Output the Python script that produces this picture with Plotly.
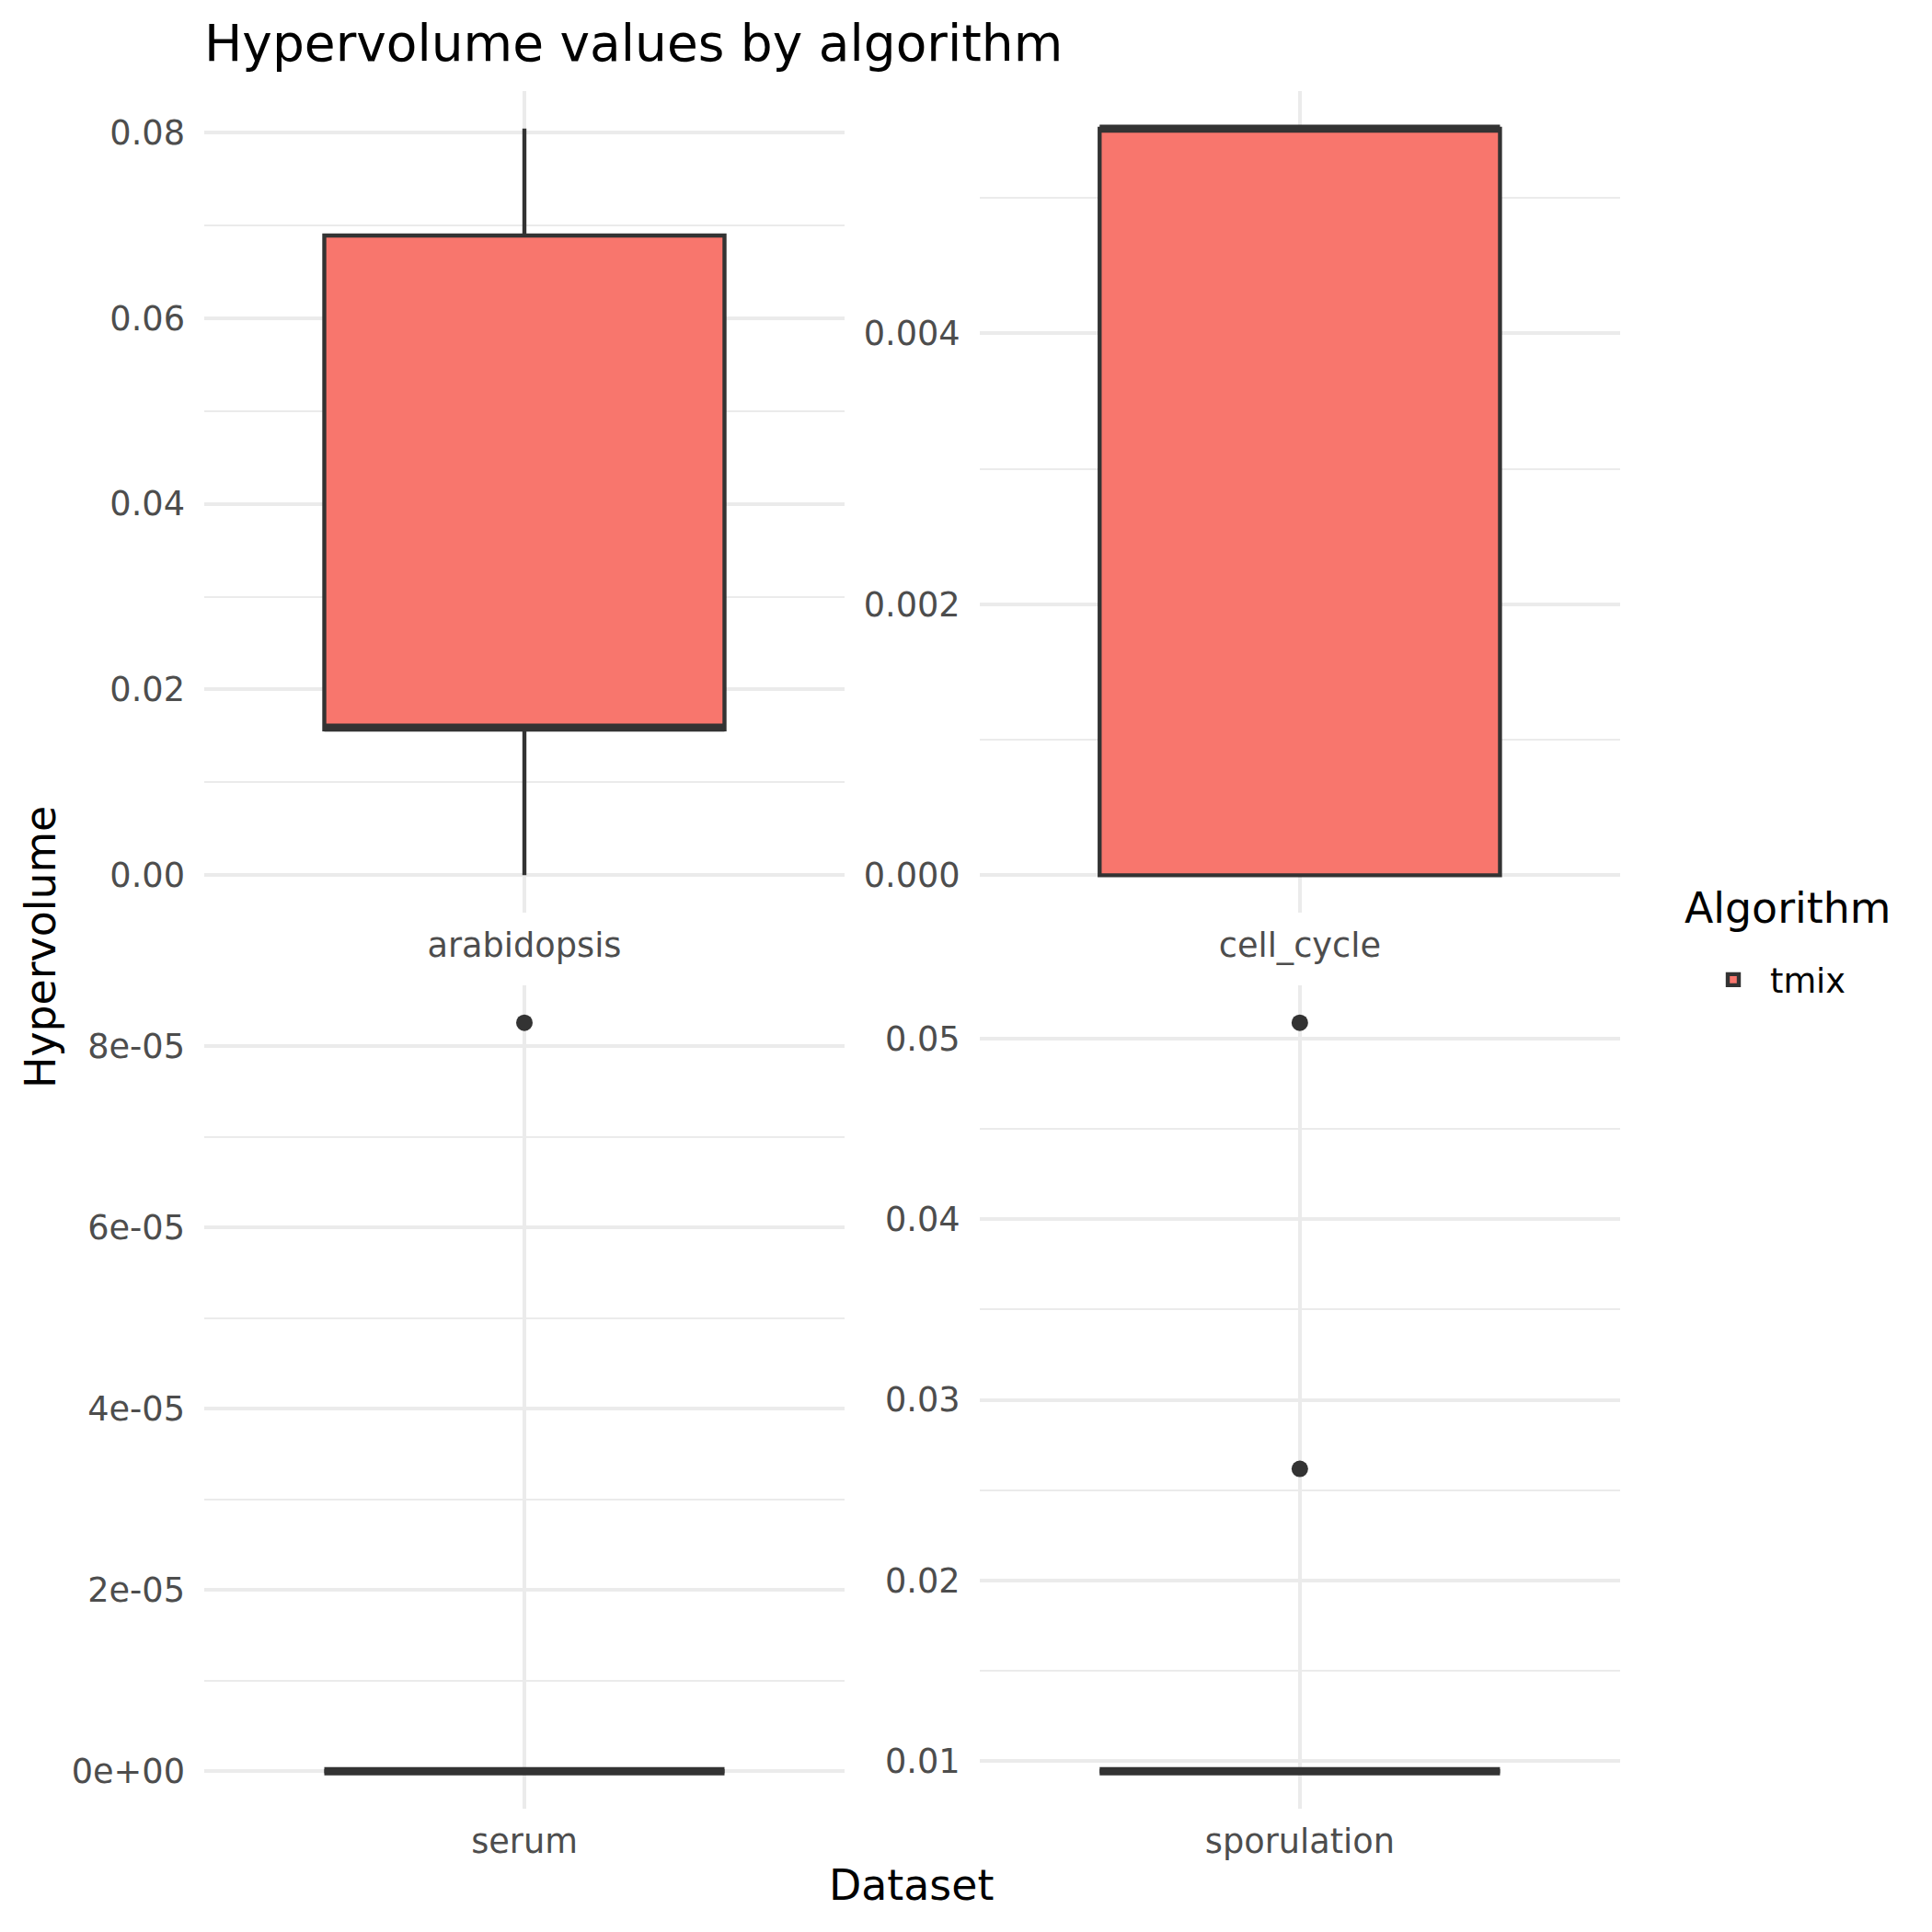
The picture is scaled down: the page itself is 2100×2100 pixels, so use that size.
import numpy as np
import plotly.graph_objects as go

# ---------------- data ----------------
datasets = ["arabidopsis", "cell_cycle", "serum", "sporulation"]
algorithm = "tmix"
lower_fence = [0.0, 0.0, 0.0, 0.009424]
q1_vals = [0.0157, 0.0, 0.0, 0.009424]
median_vals = [0.0159, 0.00551, 0.0, 0.009424]
q3_vals = [0.0689, 0.00551, 0.0, 0.009424]
upper_fence = [0.0804, 0.00551, 0.0, 0.009424]
outliers = [[], [], [8.26e-05], [0.05089, 0.02618]]

tick_values = [
    [0.0, 0.02, 0.04, 0.06, 0.08],
    [0.0, 0.002, 0.004],
    [0.0, 2e-05, 4e-05, 6e-05, 8e-05],
    [0.01, 0.02, 0.03, 0.04, 0.05],
]
tick_labels = [
    ["0.00", "0.02", "0.04", "0.06", "0.08"],
    ["0.000", "0.002", "0.004"],
    ["0e+00", "2e-05", "4e-05", "6e-05", "8e-05"],
    ["0.01", "0.02", "0.03", "0.04", "0.05"],
]

# ---------------- style ----------------
FONT = "DejaVu Sans"
FILL = "#F8766D"
EDGE = "#333333"
GRID = "#EBEBEB"
TICK_COLOR = "#4D4D4D"
OFF = 8.0          # page body margin
FIG = 2092.0


def fx(x):
    return (x - OFF) / FIG


def fy(y):
    return 1 - (y - OFF) / FIG


col_domains = [[fx(222), fx(918)], [fx(1064.7), fx(1761)]]
row_domains = [[fy(991.9), fy(99.3)], [fy(1966), fy(1071)]]

fig = go.Figure()
layout_axes = {}

for i, ds in enumerate(datasets):
    s = "" if i == 0 else str(i + 1)
    row, col = divmod(i, 2)
    # main box
    fig.add_trace(go.Box(
        x=[ds], q1=[q1_vals[i]], median=[median_vals[i]], q3=[q3_vals[i]],
        lowerfence=[lower_fence[i]], upperfence=[upper_fence[i]],
        xaxis="x" + s, yaxis="y" + s, width=0.75, whiskerwidth=0,
        fillcolor=FILL, line=dict(color=EDGE, width=4.4),
        boxpoints=False, name=algorithm, legendgroup=algorithm,
        showlegend=(i == 0), hoverinfo="skip",
    ))
    # thick median line (ggplot fatten = 2)
    m = median_vals[i]
    fig.add_trace(go.Box(
        x=[ds], q1=[m], median=[m], q3=[m], lowerfence=[m], upperfence=[m],
        xaxis="x" + s, yaxis="y" + s, width=0.75, whiskerwidth=0,
        fillcolor="rgba(0,0,0,0)", line=dict(color=EDGE, width=8.9),
        boxpoints=False, name=algorithm, legendgroup=algorithm,
        showlegend=False, hoverinfo="skip",
    ))
    if outliers[i]:
        fig.add_trace(go.Scatter(
            x=[ds] * len(outliers[i]), y=outliers[i], mode="markers",
            xaxis="x" + s, yaxis="y" + s,
            marker=dict(color=EDGE, size=18, line=dict(width=0)),
            showlegend=False, hoverinfo="skip",
        ))

    all_vals = [lower_fence[i], upper_fence[i]] + outliers[i]
    lo, hi = min(all_vals), max(all_vals)
    span = hi - lo
    yr = [lo - 0.05 * span, hi + 0.05 * span]
    tv = tick_values[i]
    mids = [(a + b) / 2 for a, b in zip(tv[:-1], tv[1:])]
    step = tv[1] - tv[0]
    cand = [tv[0] - step / 2] + mids + [tv[-1] + step / 2]
    minor_vals = [v for v in cand if yr[0] <= v <= yr[1]]

    layout_axes["xaxis" + s] = dict(
        domain=col_domains[col], anchor="y" + s, type="category",
        range=[-0.6, 0.6], showgrid=True, gridcolor=GRID, gridwidth=4.45,
        zeroline=False, showline=False, ticks="",
        tickfont=dict(family=FONT, size=36.7, color=TICK_COLOR),
        ticklabelstandoff=10, automargin=False, fixedrange=True,
    )
    layout_axes["yaxis" + s] = dict(
        domain=row_domains[row], anchor="x" + s, range=yr,
        tickmode="array", tickvals=tv, ticktext=tick_labels[i],
        showgrid=True, gridcolor=GRID, gridwidth=4.45,
        minor=dict(tickvals=minor_vals, showgrid=True, gridcolor=GRID,
                   gridwidth=2.2, ticks=""),
        zeroline=False, showline=False, ticks="",
        tickfont=dict(family=FONT, size=36.7, color=TICK_COLOR),
        ticklabelstandoff=20, automargin=False, fixedrange=True,
    )

fig.update_layout(
    width=FIG, height=FIG,
    margin=dict(l=0, r=0, t=0, b=0, pad=0),
    paper_bgcolor="white", plot_bgcolor="white",
    font=dict(family=FONT, color="black"),
    boxmode="overlay",
    title=dict(text="Hypervolume values by algorithm", x=fx(222), xanchor="left",
               xref="paper", y=fy(47), yanchor="middle", yref="container",
               font=dict(family=FONT, size=55, color="black")),
    legend=dict(
        font=dict(family=FONT, size=36.7, color="black"),
        x=fx(1844), xanchor="left", y=fy(1065), yanchor="middle",
        itemwidth=70, bgcolor="rgba(0,0,0,0)",
    ),
    annotations=[
        dict(text="Algorithm", x=fx(1829), y=fy(987), xref="paper", yref="paper",
             showarrow=False, xanchor="left", yanchor="middle",
             font=dict(family=FONT, size=45.8, color="black")),
        dict(text="Hypervolume", x=fx(44), y=fy(1030), xref="paper", yref="paper",
             textangle=-90, showarrow=False, xanchor="center", yanchor="middle",
             font=dict(family=FONT, size=45.8, color="black")),
        dict(text="Dataset", x=fx(990), y=fy(2049), xref="paper", yref="paper",
             showarrow=False, xanchor="center", yanchor="middle",
             font=dict(family=FONT, size=45.8, color="black")),
    ],
    **layout_axes,
)

fig.write_html("out.html")
